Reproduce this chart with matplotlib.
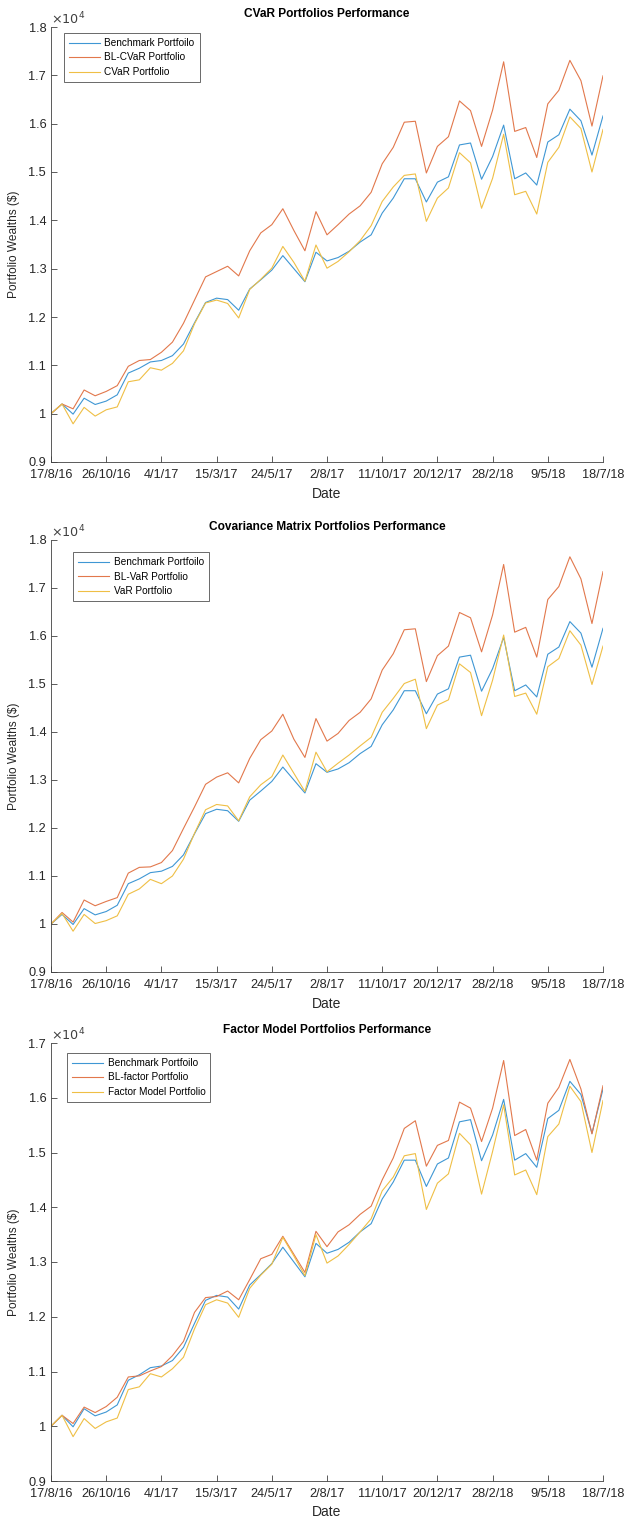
import matplotlib
matplotlib.use("Agg")
import matplotlib.pyplot as plt
import numpy as np
import pandas as pd

dates = pd.date_range("2016-08-17", periods=51, freq="14D")
tick_labels = ["17/8/16", "26/10/16", "4/1/17", "15/3/17", "24/5/17", "2/8/17",
               "11/10/17", "20/12/17", "28/2/18", "9/5/18", "18/7/18"]

benchmark = [1.000, 1.020, 0.999, 1.032, 1.019, 1.026, 1.039, 1.084, 1.094, 1.107,
             1.110, 1.120, 1.144, 1.188, 1.230, 1.239, 1.236, 1.214, 1.258, 1.277,
             1.297, 1.327, 1.300, 1.273, 1.334, 1.316, 1.323, 1.336, 1.355, 1.370,
             1.415, 1.446, 1.486, 1.486, 1.438, 1.479, 1.490, 1.556, 1.560, 1.485,
             1.532, 1.597, 1.486, 1.498, 1.473, 1.562, 1.577, 1.630, 1.606, 1.535,
             1.616]

bl_cvar = [1.000, 1.020, 1.010, 1.049, 1.037, 1.046, 1.058, 1.098, 1.110, 1.112,
           1.127, 1.148, 1.187, 1.235, 1.283, 1.294, 1.305, 1.285, 1.337, 1.374,
           1.391, 1.424, 1.379, 1.337, 1.418, 1.370, 1.391, 1.413, 1.430, 1.458,
           1.517, 1.551, 1.603, 1.605, 1.498, 1.553, 1.573, 1.647, 1.627, 1.553,
           1.628, 1.728, 1.584, 1.592, 1.530, 1.641, 1.669, 1.731, 1.689, 1.595,
           1.699]

cvar = [1.000, 1.020, 0.979, 1.013, 0.995, 1.008, 1.014, 1.066, 1.070, 1.095,
        1.090, 1.104, 1.130, 1.186, 1.229, 1.235, 1.228, 1.198, 1.257, 1.278,
        1.301, 1.346, 1.313, 1.274, 1.349, 1.301, 1.315, 1.335, 1.358, 1.389,
        1.439, 1.469, 1.493, 1.496, 1.398, 1.446, 1.467, 1.540, 1.519, 1.425,
        1.487, 1.578, 1.453, 1.460, 1.413, 1.520, 1.551, 1.614, 1.590, 1.500,
        1.588]

bl_var = [1.000, 1.024, 1.004, 1.050, 1.038, 1.047, 1.055, 1.106, 1.118, 1.119,
          1.128, 1.153, 1.199, 1.244, 1.291, 1.306, 1.315, 1.294, 1.345, 1.384,
          1.402, 1.437, 1.385, 1.347, 1.428, 1.381, 1.397, 1.424, 1.441, 1.469,
          1.529, 1.563, 1.613, 1.615, 1.505, 1.559, 1.579, 1.649, 1.638, 1.567,
          1.644, 1.749, 1.608, 1.618, 1.556, 1.676, 1.703, 1.765, 1.719, 1.626,
          1.734]

var = [1.000, 1.022, 0.985, 1.020, 1.001, 1.007, 1.017, 1.062, 1.073, 1.093,
       1.084, 1.100, 1.135, 1.189, 1.238, 1.249, 1.246, 1.215, 1.265, 1.290,
       1.307, 1.352, 1.314, 1.276, 1.358, 1.317, 1.335, 1.352, 1.371, 1.389,
       1.441, 1.470, 1.501, 1.510, 1.407, 1.456, 1.467, 1.542, 1.524, 1.434,
       1.508, 1.602, 1.474, 1.481, 1.437, 1.536, 1.553, 1.611, 1.581, 1.499,
       1.579]

bl_factor = [1.000, 1.020, 1.005, 1.035, 1.025, 1.036, 1.053, 1.090, 1.092, 1.101,
             1.109, 1.129, 1.155, 1.208, 1.235, 1.237, 1.247, 1.231, 1.268, 1.306,
             1.314, 1.347, 1.314, 1.281, 1.356, 1.328, 1.355, 1.368, 1.387, 1.402,
             1.450, 1.490, 1.544, 1.558, 1.475, 1.513, 1.522, 1.592, 1.581, 1.520,
             1.581, 1.668, 1.531, 1.542, 1.486, 1.590, 1.619, 1.670, 1.616, 1.534,
             1.622]

factor = [1.000, 1.020, 0.981, 1.014, 0.996, 1.008, 1.015, 1.067, 1.072, 1.096,
          1.090, 1.105, 1.126, 1.178, 1.222, 1.231, 1.225, 1.199, 1.252, 1.276,
          1.296, 1.345, 1.311, 1.275, 1.350, 1.298, 1.311, 1.332, 1.355, 1.379,
          1.430, 1.455, 1.494, 1.498, 1.396, 1.444, 1.461, 1.535, 1.514, 1.424,
          1.502, 1.587, 1.459, 1.468, 1.423, 1.529, 1.552, 1.621, 1.593, 1.500,
          1.595]

titles = ["CVaR Portfolios Performance",
          "Covariance Matrix Portfolios Performance",
          "Factor Model Portfolios Performance"]
legends = [["Benchmark Portfoilo", "BL-CVaR Portfolio", "CVaR Portfolio"],
           ["Benchmark Portfoilo", "BL-VaR Portfolio", "VaR Portfolio"],
           ["Benchmark Portfoilo", "BL-factor Portfolio", "Factor Model Portfolio"]]
series = [[benchmark, bl_cvar, cvar],
          [benchmark, bl_var, var],
          [benchmark, bl_factor, factor]]
ytop = [1.8, 1.8, 1.7]

colors = ["#3f97d4", "#e2784c", "#efbf45"]
plt.rcParams["font.family"] = ["Liberation Sans", "DejaVu Sans"]

W, H = 625, 1520
fig = plt.figure(figsize=(W / 100, H / 100), dpi=100)

# axes in pixel coords: (left, top, right, bottom)
boxes = [(51, 27, 603, 462), (51, 540, 603, 972), (51, 1043, 603, 1481)]
leg_anchor = [(64, 33), (73, 552), (67, 1053)]

for k in range(3):
    l, t, r, b = boxes[k]
    ax = fig.add_axes([l / W, 1 - b / H, (r - l) / W, (b - t) / H])
    for s, c, lab in zip(series[k], colors, legends[k]):
        ax.plot(dates, np.array(s) * 1e4, color=c, lw=0.8, label=lab)
    ax.set_xlim(dates[0], dates[-1])
    ax.set_ylim(9000, ytop[k] * 1e4)
    yt = np.arange(9000, ytop[k] * 1e4 + 1, 1000)
    ax.set_yticks(yt)
    ax.set_yticklabels([("%g" % (v / 1e4)) for v in yt])
    ax.set_xticks(dates[::5])
    ax.set_xticklabels(tick_labels)
    for sp in ["top", "right"]:
        ax.spines[sp].set_visible(False)
    for sp in ["left", "bottom"]:
        ax.spines[sp].set_color("#404040")
        ax.spines[sp].set_linewidth(0.6)
    ax.tick_params(direction="in", length=4, width=0.6, colors="#404040",
                   labelcolor="#262626", labelsize=9.2)
    ax.tick_params(axis="x", pad=5)
    ax.tick_params(axis="y", pad=3.5)
    ax.set_title(titles[k], fontsize=8.6, fontweight="bold", pad=7)
    ax.set_xlabel("Date", fontsize=10, color="#262626", labelpad=4)
    ax.set_ylabel("Portfolio Wealths (\\$)", fontsize=8.6, color="#262626", labelpad=6)
    ax.text(0.0, 1.0, r"$\times10^4$", transform=ax.transAxes, fontsize=9.2,
            color="#404040", ha="left", va="bottom")
    lx, ly = leg_anchor[k]
    leg = ax.legend(loc="upper left",
                    bbox_to_anchor=((lx - l) / (r - l), 1 - (ly - t) / (b - t)),
                    fontsize=7.2, frameon=True, fancybox=False, borderaxespad=0,
                    handlelength=3.1, handletextpad=0.45, borderpad=0.5,
                    labelspacing=0.45)
    leg.get_frame().set_edgecolor("#262626")
    leg.get_frame().set_linewidth(0.6)

fig.savefig("out.png", dpi=100)
